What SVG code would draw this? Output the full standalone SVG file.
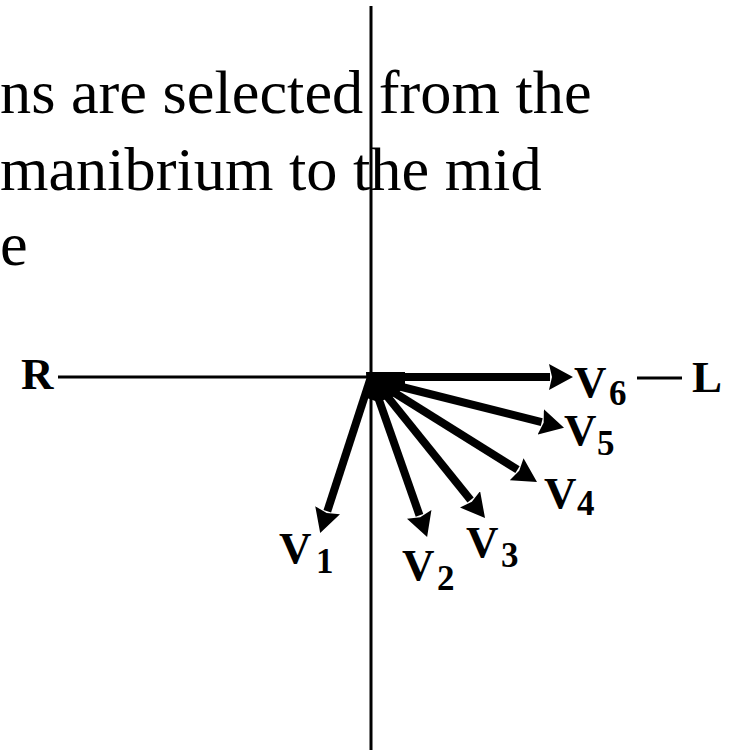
<svg xmlns="http://www.w3.org/2000/svg" width="734" height="754" viewBox="0 0 734 754">
<style>
.body{font-family:"Liberation Serif","Times New Roman",serif;font-size:62.3px;fill:#000}
.lbl{font-family:"Liberation Serif","Times New Roman",serif;font-weight:bold;font-size:45px;fill:#000}
.sub{font-family:"Liberation Serif","Times New Roman",serif;font-weight:bold;font-size:35px;fill:#000}
.axis{stroke:#000;stroke-width:3;fill:none}
.vec{stroke:#000;stroke-width:8;fill:none;marker-end:url(#ah)}
</style>
<defs>
<marker id="ah" markerUnits="userSpaceOnUse" markerWidth="26" markerHeight="26" refX="1" refY="13" orient="auto">
<path d="M0,0 L24,13 L0,26 L3,13 Z" fill="#000"/>
</marker>
</defs>
<rect width="734" height="754" fill="#fff"/>
<g id="text">
<text class="body" x="0" y="113">ns are selected from the</text>
<text class="body" x="0" y="190">manibrium to the mid</text>
<text class="body" x="0" y="265">e</text>
</g>
<g id="connectors">
<line class="axis" x1="371" y1="6" x2="371" y2="750"/>
<line class="axis" x1="58" y1="377" x2="372" y2="377"/>
<line class="axis" x1="637" y1="378" x2="682" y2="378"/>
<polygon points="366,372 405,372 405,386 395,396 378,402 367,398" fill="#000"/>
<line class="vec" x1="368" y1="377" x2="550" y2="377"/>
<line class="vec" x1="374" y1="380" x2="541.7" y2="422.2"/>
<line class="vec" x1="374" y1="380" x2="517.5" y2="469.7"/>
<line class="vec" x1="374" y1="380" x2="470.6" y2="500.1"/>
<line class="vec" x1="372" y1="380" x2="419.5" y2="515.3"/>
<line class="vec" x1="370" y1="380" x2="327.3" y2="511.2"/>
</g>
<g id="R"><text class="lbl" x="21" y="389">R</text></g>
<g id="L"><text class="lbl" x="692" y="392">L</text></g>
<g id="V1"><text class="lbl" x="279" y="563">V</text><text class="sub" x="316" y="573">1</text></g>
<g id="V2"><text class="lbl" x="402" y="580">V</text><text class="sub" x="437" y="590">2</text></g>
<g id="V3"><text class="lbl" x="466" y="557">V</text><text class="sub" x="501" y="567">3</text></g>
<g id="V4"><text class="lbl" x="544" y="508">V</text><text class="sub" x="577" y="515">4</text></g>
<g id="V5"><text class="lbl" x="564" y="445">V</text><text class="sub" x="597" y="455">5</text></g>
<g id="V6"><text class="lbl" x="574" y="397">V</text><text class="sub" x="609" y="405">6</text></g>
</svg>
